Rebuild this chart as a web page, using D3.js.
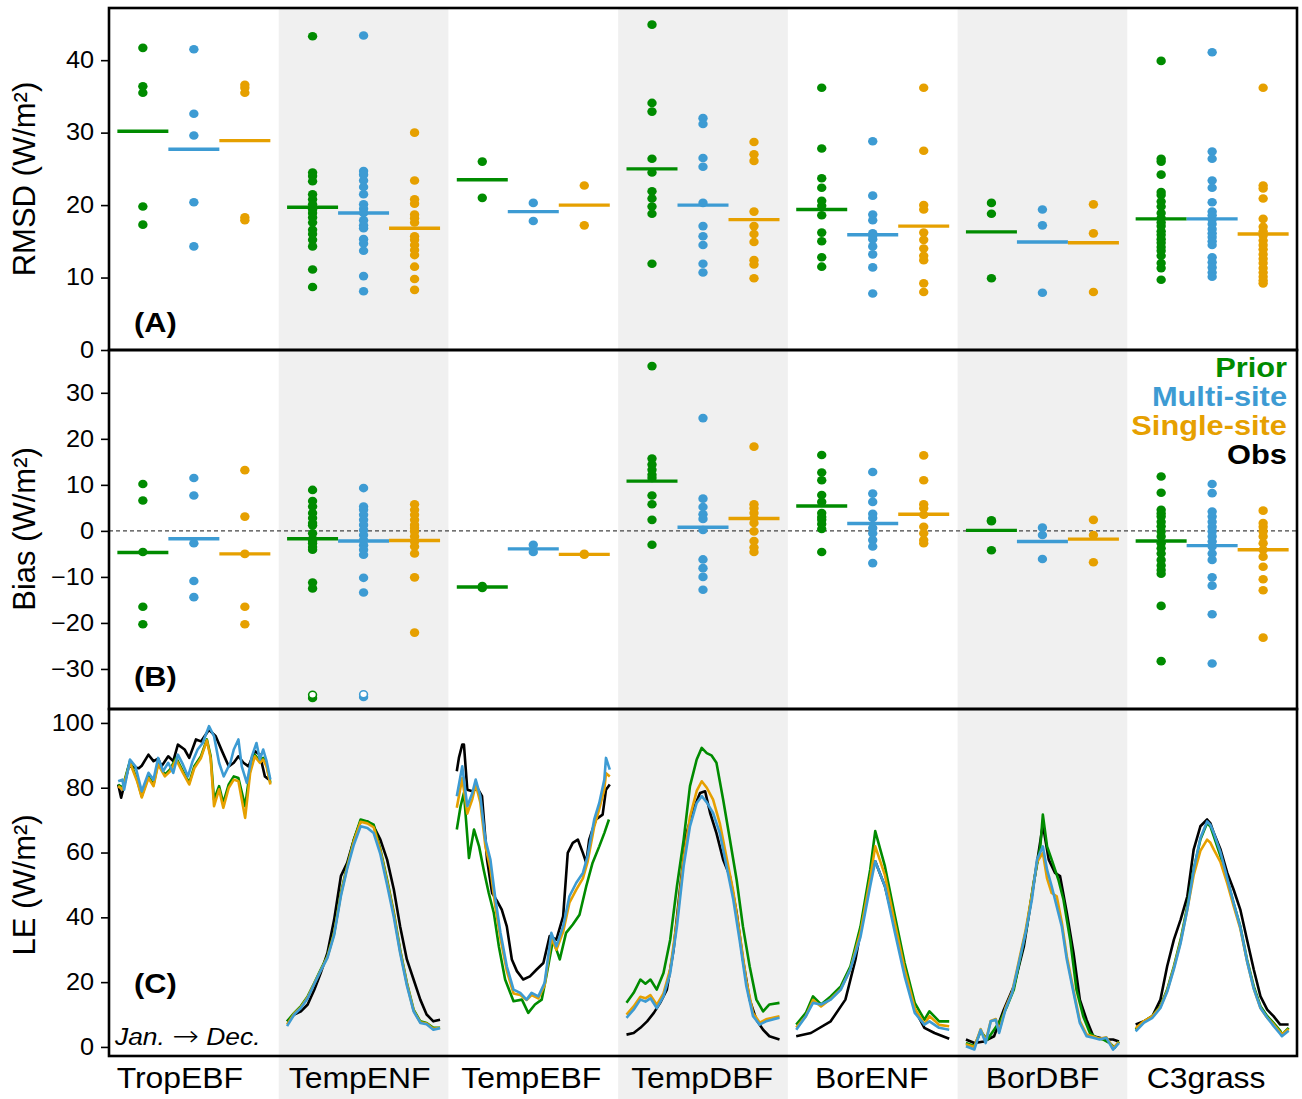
<!DOCTYPE html>
<html>
<head>
<meta charset="utf-8">
<script src="https://cdn.jsdelivr.net/npm/d3@7"></script>
<style>
  body { margin: 0; background: #fff; }
  text { font-family: "Liberation Sans", Arial, sans-serif; }
</style>
</head>
<body>
<svg id="chart" width="1302" height="1099"></svg>
<script>
// ---- data ----
var categories = ["TropEBF", "TempENF", "TempEBF", "TempDBF", "BorENF", "BorDBF", "C3grass"];
var models = ["Prior", "Multi-site", "Single-site"];

// (A) RMSD per site, one list per category
var rmsdPrior = [
  [41.7, 36.4, 35.5, 19.8, 17.3],
  [43.3, 24.5, 24.0, 23.3, 21.5, 20.8, 20.1, 19.4, 18.9, 18.3, 17.6, 16.6, 16.0, 15.2, 14.3, 11.1, 8.7],
  [26.0, 21.0],
  [44.9, 34.1, 32.9, 26.4, 24.5, 21.9, 20.9, 19.8, 18.8, 11.9],
  [36.2, 27.8, 23.7, 22.4, 20.6, 19.9, 18.6, 16.2, 15.0, 12.8, 11.5],
  [20.3, 18.8, 9.9],
  [39.9, 26.4, 26.0, 24.2, 21.8, 21.4, 20.5, 19.8, 18.9, 18.2, 17.6, 17.1, 16.4, 15.9, 15.3, 14.8, 14.2, 13.7, 13.0, 12.0, 11.3, 9.7]
];
var rmsdMulti = [
  [41.5, 32.6, 29.6, 20.4, 14.3],
  [43.4, 24.7, 24.2, 23.4, 22.5, 21.5, 20.1, 19.5, 18.9, 17.9, 17.2, 16.8, 15.3, 14.7, 13.7, 10.2, 8.1],
  [20.3, 17.8],
  [32.0, 31.2, 26.5, 25.3, 20.3, 17.1, 15.7, 14.5, 11.9, 10.7],
  [28.8, 21.3, 18.7, 17.9, 16.1, 15.8, 15.3, 14.3, 13.2, 11.4, 7.8],
  [19.4, 17.2, 7.9],
  [41.1, 27.4, 26.4, 23.4, 22.4, 20.4, 19.1, 18.6, 18.0, 17.4, 16.7, 16.1, 15.6, 15.0, 14.5, 12.8, 12.1, 11.4, 10.7, 10.1]
];
var rmsdSingle = [
  [36.6, 36.2, 35.5, 18.3, 17.9],
  [30.0, 23.4, 20.8, 20.2, 18.7, 18.2, 17.6, 15.7, 15.2, 14.5, 13.8, 13.1, 11.5, 9.8, 8.3],
  [22.7, 17.2],
  [28.7, 27.0, 26.1, 19.1, 17.1, 16.0, 14.9, 12.4, 11.8, 9.9],
  [36.2, 27.5, 20.0, 19.4, 16.2, 15.2, 14.0, 13.0, 12.4, 9.2, 8.0],
  [20.1, 16.1, 8.0],
  [36.2, 22.7, 22.3, 20.9, 18.1, 17.0, 16.4, 15.8, 15.1, 14.5, 13.9, 13.2, 12.6, 12.0, 11.3, 10.7, 10.1, 9.6, 9.2]
];
var rmsdMeanPrior  = [30.2, 19.7, 23.5, 25.0, 19.4, 16.3, 18.1];
var rmsdMeanMulti  = [27.7, 18.9, 19.1, 20.0, 15.9, 14.9, 18.1];
var rmsdMeanSingle = [28.9, 16.8, 20.0, 18.0, 17.1, 14.8, 16.0];

// (B) bias per site
var biasPrior = [
  [10.2, 6.6, -4.6, -16.5, -20.3],
  [8.9, 6.5, 5.3, 3.9, 2.8, 1.7, 1.2, -0.5, -1.7, -2.2, -2.7, -3.5, -4.1, -11.2, -12.5, -36.3],
  [-12.0, -12.4],
  [35.8, 15.7, 14.4, 13.3, 12.2, 11.5, 7.7, 5.8, 2.4, -3.0],
  [16.5, 12.7, 11.0, 7.8, 6.3, 3.9, 3.0, 2.4, 1.5, 0.4, -4.6],
  [2.3, 2.1, -4.2],
  [11.8, 8.3, 4.6, 3.8, 3.1, 2.0, 1.0, -0.1, -1.2, -2.7, -3.8, -4.9, -6.3, -7.5, -8.5, -9.3, -16.3, -28.3]
];
var biasMulti = [
  [11.5, 7.7, -2.7, -10.9, -14.4],
  [9.3, 5.3, 4.6, 3.5, 2.4, 1.3, 0.2, -0.9, -2.0, -3.1, -4.1, -5.2, -10.2, -13.4, -36.1],
  [-3.0, -4.6],
  [24.5, 7.0, 5.2, 3.6, 2.6, 0.2, -6.2, -8.1, -10.0, -12.8],
  [12.8, 8.1, 6.3, 3.7, 2.8, 0.6, -0.5, -2.0, -3.4, -7.0],
  [0.7, -0.9, -6.1],
  [10.2, 8.2, 4.2, 3.1, 2.0, 0.9, -0.1, -1.2, -2.3, -3.4, -4.9, -6.3, -10.1, -11.9, -18.1, -28.8]
];
var biasSingle = [
  [13.2, 3.1, -5.0, -16.5, -20.3],
  [5.8, 4.6, 3.5, 2.4, 1.3, 0.6, -0.1, -1.2, -2.3, -3.4, -4.9, -10.1, -22.1],
  [-5.0, -5.2],
  [18.3, 5.8, 4.9, 3.9, 2.8, 1.7, -0.1, -2.2, -3.6, -4.6],
  [16.4, 11.0, 5.8, 4.9, 3.5, 0.9, -0.5, -2.0, -2.7],
  [2.4, -0.9, -6.8],
  [4.4, 1.7, 0.9, -0.1, -1.2, -2.7, -4.1, -5.6, -7.8, -10.5, -12.9, -23.2]
];
var biasMeanPrior  = [-4.7, -1.7, -12.2, 10.8, 5.4, 0.1, -2.2];
var biasMeanMulti  = [-1.7, -2.2, -3.9, 0.8, 1.6, -2.3, -3.2];
var biasMeanSingle = [-5.0, -2.1, -5.1, 2.7, 3.6, -1.8, -4.1];
// off-scale markers (open circles) : [category, model, value]
var biasOffScale = [["TempENF", "Prior", -35.6], ["TempENF", "Multi-site", -35.5]];

// (C) seasonal LE, [day of year, W/m2]
var leObs = [
  [[2,81],[9,76.9],[27,86.6],[51,86],[58,86.8],[74,90.2],[86,88.2],[97,89],[105,86.6],[121,89.7],[133,88.2],[144,93.3],[160,91.8],[171,89.2],[187,94.9],[199,94.3],[218,97.9],[234,95.9],[249,91.3],[265,86.6],[277,87.7],[288,89.7],[300,87.7],[312,86.6],[327,91.3],[339,90.2],[351,83.5],[361,82.5]],
  [[0,7.9],[17,10],[33,11],[49,13.1],[65,17.7],[80,22.8],[96,29],[112,39.3],[128,52.7],[143,56.8],[159,64],[175,69.6],[191,69.6],[206,68.1],[222,64],[238,57.8],[254,48.6],[269,37.2],[285,27],[301,20.8],[317,14.6],[332,10],[348,7.9],[364,8.4]],
  [[0,85.1],[5,89.2],[13,93.3],[17,93.3],[25,79.4],[37,78.9],[49,79.9],[60,77.4],[72,57.8],[84,47.5],[96,45],[107,42.4],[119,37.2],[131,27],[143,23.4],[158,20.8],[174,21.8],[190,23.9],[206,25.9],[221,34.2],[237,33.1],[253,40.3],[264,59.9],[276,63],[288,64],[300,59.9],[308,56.8],[315,64],[331,70.2],[347,71.7],[355,79.4],[364,81]],
  [[0,3.8],[17,4.3],[33,5.9],[49,7.9],[65,10.5],[80,13.6],[96,17.7],[112,30],[128,49.6],[143,66],[159,73.3],[175,78.4],[187,78.9],[199,72.2],[214,66],[230,57.8],[246,52.7],[262,41.4],[277,27],[293,14.6],[309,8.4],[325,5.3],[340,3.3],[364,2.3]],
  [[0,3.3],[35,4.3],[82,7.9],[117,14.6],[141,27],[164,43.4],[176,52],[188,57.3],[211,49.6],[235,37.2],[258,23.9],[282,11.5],[305,5.9],[329,4.3],[364,2.5]],
  [[0,2.3],[20,1.2],[43,1.7],[67,3.3],[90,11.5],[114,18.7],[138,31.1],[153,43.4],[169,56.8],[183,68.6],[197,57.8],[212,53.7],[224,52.7],[240,41.4],[256,29],[271,14.6],[287,8.4],[303,3.3],[318,2.8],[334,2.3],[350,2.3],[364,1.7]],
  [[0,6.9],[20,7.9],[40,9.5],[59,14.6],[75,24.9],[91,33.1],[107,39.3],[123,46.5],[138,60.9],[154,68.1],[170,70.2],[178,69],[186,66],[202,60.9],[218,53.7],[233,48.6],[249,42.4],[265,33.1],[281,23.9],[297,15.6],[313,11.5],[328,9.5],[344,6.9],[364,6.9]]
];
var lePrior = [
  [[2,81],[12,80],[30,88.2],[47,82.5],[58,77.4],[74,83.5],[86,81],[97,87.7],[113,84],[125,85.6],[140,89.2],[156,85.1],[171,81.5],[183,86.6],[199,89.7],[213,94.9],[222,89.7],[230,76.3],[242,80.5],[252,75.3],[265,81],[277,83.5],[288,83],[304,74.3],[316,85.6],[327,90.2],[339,88.2],[347,89.2],[355,87.2],[364,81.5]],
  [[0,7.9],[17,10.5],[33,12.6],[49,15.6],[65,19.8],[80,23.9],[96,28],[112,35.2],[128,47.5],[143,55.8],[159,64],[175,70.2],[191,69.6],[206,68.6],[222,60.9],[238,51.6],[254,41.4],[269,30],[285,19.8],[301,11.5],[317,7.9],[332,7.4],[348,5.9],[364,5.9]],
  [[0,67.1],[9,74.3],[17,78.4],[29,58.3],[41,67.1],[53,61.9],[64,54.7],[76,47.5],[88,41.4],[100,31.1],[115,20.8],[135,14.1],[155,14.6],[170,10.5],[186,13.1],[202,14.6],[213,21.8],[229,33.1],[245,27],[260,35.2],[276,37.8],[292,40.8],[308,49.6],[323,56.8],[339,61.9],[351,66],[362,70.2]],
  [[0,13.6],[17,16.7],[33,20.8],[45,19.5],[57,20.8],[72,17.7],[88,22.8],[104,33.1],[120,49.6],[136,64],[151,80.5],[167,88.7],[179,92.3],[191,90.7],[202,90],[214,87.7],[230,76.3],[246,64],[262,51.6],[277,37.2],[293,24.9],[309,14.6],[325,11],[340,13.1],[364,13.6]],
  [[0,6.9],[23,10.5],[40,15.6],[59,13.1],[82,15.6],[106,18.7],[129,24.9],[153,37.2],[176,54.7],[188,66.6],[211,55.8],[235,40.3],[258,25.9],[282,13.6],[305,8.4],[317,11],[340,7.9],[364,7.9]],
  [[0,1.2],[20,0.2],[35,4.8],[51,2.3],[67,5.3],[83,8.4],[98,12.6],[114,17.7],[130,28],[145,37.2],[161,50.6],[177,61.9],[183,71.7],[193,61.9],[204,57.8],[220,51.6],[232,45.5],[248,33.1],[263,17.7],[279,9.5],[295,4.3],[311,2.8],[326,2.3],[342,1.2],[354,-0.3],[364,1.7]],
  [[0,5.3],[20,7.9],[40,9.5],[59,12.6],[75,17.7],[91,24.9],[107,33.1],[123,43.4],[138,54.7],[154,64],[170,69.1],[178,68],[186,65],[202,58.8],[218,51.6],[233,44.4],[249,37.2],[265,27],[281,18.7],[297,12.6],[313,9.5],[328,7.4],[344,5],[348,3.8],[364,5.9]]
];
var leMulti = [
  [[2,82],[12,82.5],[16,79.4],[30,88.7],[43,86.6],[58,78.9],[74,84.6],[86,82.5],[97,89.2],[109,85.1],[121,87.7],[133,84.6],[144,90.2],[156,87.2],[168,83.5],[179,88.2],[191,91.8],[203,93.8],[218,99],[230,95.9],[242,87.7],[253,83.5],[269,87.7],[277,91.8],[288,94.9],[296,86.6],[308,81.5],[320,89.7],[331,93.8],[339,88.7],[347,91.8],[355,88.2],[364,82.5]],
  [[0,6.4],[17,10],[33,12],[49,15],[65,19.5],[80,23.5],[96,27.5],[112,34.5],[128,46.5],[143,55],[159,62.5],[175,68.1],[191,67.6],[206,66],[222,59.5],[238,50],[254,40],[269,29],[285,19],[301,11],[317,7.4],[332,7],[348,5.3],[364,5.8]],
  [[0,77.4],[13,86.6],[25,74.3],[37,78.4],[45,82.5],[56,77.4],[68,64],[80,57.8],[92,45.5],[104,35.2],[119,24.9],[135,17.7],[151,16.7],[166,14.6],[178,16.7],[194,15.6],[209,19.8],[225,35.2],[237,31.1],[253,37.2],[268,46.5],[284,50.6],[300,53.7],[311,58.8],[327,70.2],[339,75.3],[351,82.5],[355,89.2],[364,85.6]],
  [[0,9],[17,11.5],[33,14.6],[45,14],[57,15],[72,12],[88,15.6],[104,22.8],[120,37.2],[136,55.8],[151,68.1],[167,75.3],[179,77.4],[191,75.5],[206,72.2],[222,66],[238,55.8],[254,45.5],[269,33.1],[285,18.8],[301,9.5],[317,6.9],[332,7.9],[348,8.5],[364,9]],
  [[0,5.3],[23,9.5],[40,13.6],[59,13.1],[82,14.6],[106,17.7],[129,24],[153,34],[176,49.6],[188,57.3],[211,49.6],[235,35.2],[258,21.8],[282,10.5],[305,6.9],[317,7.9],[340,5.9],[364,5.3]],
  [[0,0.2],[20,-0.8],[35,5.3],[47,1.2],[59,7.9],[71,8.4],[79,4.3],[94,11.5],[110,16.7],[126,25.9],[142,35.2],[157,45.5],[169,57.8],[183,61.9],[193,54.7],[204,49.6],[216,43.4],[228,37.2],[240,27],[256,16.7],[271,7.4],[287,3.3],[303,2.8],[318,2.3],[334,2.8],[350,-0.8],[364,1.2]],
  [[0,4.8],[20,7.5],[40,9],[59,12],[75,17],[91,24],[107,32],[123,42.5],[138,54.5],[154,64.5],[170,69.6],[178,68.5],[186,66],[202,60],[218,52],[233,44.5],[249,37],[265,26.5],[281,18],[297,12],[313,9],[328,6.5],[344,4],[348,3.3],[364,5]]
];
var leSingle = [
  [[2,80.5],[12,79.5],[30,87.7],[47,82],[58,77],[74,83],[86,80.5],[97,87.2],[113,83.5],[125,85],[140,88.7],[156,84.6],[171,81],[183,86],[199,89.2],[213,94.6],[222,89],[230,74.3],[242,79.5],[252,73.8],[265,80],[277,82.5],[288,82],[304,70.7],[316,84.6],[327,89.7],[339,87.7],[347,88.7],[355,86.6],[364,81]],
  [[0,6.9],[17,10.3],[33,12.3],[49,15.3],[65,19.6],[80,23.6],[96,27.8],[112,35],[128,47],[143,55.5],[159,63.5],[175,69.5],[191,69],[206,67.8],[222,60.5],[238,51],[254,41],[269,29.5],[285,19.5],[301,11.2],[317,7.6],[332,7.2],[348,5.6],[364,5.9]],
  [[0,73.8],[13,83],[25,72],[37,76.5],[45,81],[56,75.5],[68,62],[80,55],[92,43],[104,33.5],[119,23.5],[135,16.5],[151,16],[166,14.5],[178,16],[194,15],[209,19],[225,33.5],[237,30],[253,35.5],[268,44.5],[284,48.5],[300,52],[311,57],[327,68],[339,73.5],[351,79.5],[355,84.5],[364,83.5]],
  [[0,10],[17,12.5],[33,15.5],[45,15],[57,16],[72,13],[88,16.5],[104,24],[120,39],[136,58],[151,71],[167,79],[179,82],[191,80],[206,76.3],[222,69],[238,58.5],[254,48],[269,35],[285,20.5],[301,10.5],[317,7.5],[332,8.5],[348,9],[364,9.5]],
  [[0,6],[23,9.5],[40,14.5],[59,12.5],[82,14.8],[106,17.8],[129,24],[153,35.5],[176,52],[188,61.9],[211,53],[235,38],[258,24],[282,12],[305,7],[317,9.5],[340,6.8],[364,6.4]],
  [[0,0.8],[20,0],[35,5.5],[47,1.8],[59,8],[71,8.6],[79,4.8],[94,12],[110,17],[126,26.5],[142,36],[157,47],[169,57],[183,59.9],[193,52],[204,47.5],[216,46.5],[228,38.5],[240,28],[256,17.5],[271,8],[287,3.8],[303,3.2],[318,2.5],[334,3],[350,-0.3],[364,1.5]],
  [[0,5.8],[20,8],[40,9.5],[59,12.4],[75,17.3],[91,24.5],[107,32.5],[123,42.5],[138,53],[154,60.5],[170,64],[178,63],[186,60.9],[202,57],[218,50.5],[233,43.5],[249,36.5],[265,26.5],[281,18],[297,12],[313,9],[328,7],[344,4.5],[348,3.8],[364,5.5]]
];

var rmsdTicks = [0, 10, 20, 30, 40];
var biasTicks = [-30, -20, -10, 0, 10, 20, 30];
var leTicks = [0, 20, 40, 60, 80, 100];

// ---- drawing ----
var colors = { "Prior": "#008b00", "Multi-site": "#3d9bd3", "Single-site": "#e6a000", "Obs": "#000000" };
var svg = d3.select("#chart");
var left = 109, right = 1297;
var yTop = 8, midAB = 350, midBC = 709, yBottom = 1056;
var stretchX = 1.1;   // the figure's type is set a bit wide
var labelNudge = [-14, -4, -2, -1, -1, 0, -6];   // category labels sit a touch left of band centres

var x = d3.scaleBand().domain(categories).range([left, right]);
var xSub = d3.scaleBand().domain(models).range([0, x.bandwidth()]).paddingOuter(0.164);

var yA = d3.scaleLinear().domain([0, 47.2]).range([midAB, yTop]);
var yB = d3.scaleLinear().domain([-38.7, 39.3]).range([midBC, midAB]);
var yC = d3.scaleLinear().domain([-2.8, 104.3]).range([yBottom, midBC]);

// place a text at (px,py), widened horizontally
function placeText(sel, px, py) {
  sel.attr("transform", function(d, i) {
    var a = typeof px == "function" ? px(d, i) : px;
    var b = typeof py == "function" ? py(d, i) : py;
    return "translate(" + a + "," + b + ") scale(" + stretchX + ",1)";
  });
}

// grey bands behind every other category
svg.append("g").selectAll("rect")
  .data(categories.filter(function(d, i) { return i % 2 == 1; }))
  .enter().append("rect")
    .attr("x", function(d) { return x(d); })
    .attr("y", yTop)
    .attr("width", x.bandwidth())
    .attr("height", 1099 - yTop)
    .attr("fill", "#f0f0f0");

// zero line in panel B
svg.append("line")
  .attr("x1", left).attr("x2", right)
  .attr("y1", yB(0)).attr("y2", yB(0))
  .attr("stroke", "#444").attr("stroke-width", 1.2).attr("stroke-dasharray", "4,3");

function dotPanel(y, lists, means) {
  var g = svg.append("g");
  models.forEach(function(m, mi) {
    var cx = function(c) { return x(c) + xSub(m) + xSub.bandwidth() / 2; };
    categories.forEach(function(c, ci) {
      g.selectAll(null)
        .data(lists[mi][ci])
        .enter().append("ellipse")
          .attr("cx", cx(c))
          .attr("cy", function(d) { return y(d); })
          .attr("rx", 4.7).attr("ry", 4.3)
          .attr("fill", colors[m]);
    });
    g.selectAll(null)
      .data(categories)
      .enter().append("line")
        .attr("x1", function(c) { return x(c) + xSub(m); })
        .attr("x2", function(c) { return x(c) + xSub(m) + xSub.bandwidth(); })
        .attr("y1", function(c, ci) { return y(means[mi][ci]); })
        .attr("y2", function(c, ci) { return y(means[mi][ci]); })
        .attr("stroke", colors[m])
        .attr("stroke-width", 3.4);
  });
  return g;
}

dotPanel(yA, [rmsdPrior, rmsdMulti, rmsdSingle], [rmsdMeanPrior, rmsdMeanMulti, rmsdMeanSingle]);
var gB = dotPanel(yB, [biasPrior, biasMulti, biasSingle], [biasMeanPrior, biasMeanMulti, biasMeanSingle]);

gB.selectAll(null)
  .data(biasOffScale)
  .enter().append("ellipse")
    .attr("cx", function(d) { return x(d[0]) + xSub(d[1]) + xSub.bandwidth() / 2; })
    .attr("cy", function(d) { return yB(d[2]); })
    .attr("rx", 3.9).attr("ry", 3.5)
    .attr("fill", "#fff")
    .attr("stroke", function(d) { return colors[d[1]]; })
    .attr("stroke-width", 1.6);

// panel C lines
var gC = svg.append("g");
var series = [["Obs", leObs], ["Prior", lePrior], ["Single-site", leSingle], ["Multi-site", leMulti]];
series.forEach(function(s) {
  categories.forEach(function(c, ci) {
    var xd = d3.scaleLinear().domain([0, 364])
      .range([x(c) + xSub("Prior"), x(c) + xSub("Single-site") + xSub.bandwidth()]);
    var line = d3.line()
      .x(function(d) { return xd(d[0]); })
      .y(function(d) { return yC(d[1]); });
    gC.append("path")
      .datum(s[1][ci])
      .attr("d", line)
      .attr("fill", "none")
      .attr("stroke", colors[s[0]])
      .attr("stroke-width", 2.6)
      .attr("stroke-linejoin", "round");
  });
});

// frames
[[yTop, midAB], [midAB, midBC], [midBC, yBottom]].forEach(function(p) {
  svg.append("rect")
    .attr("x", left).attr("y", p[0])
    .attr("width", right - left).attr("height", p[1] - p[0])
    .attr("fill", "none").attr("stroke", "#000").attr("stroke-width", 2.6);
});

// axes
function yAxis(scale, ticks) {
  var g = svg.append("g")
    .attr("transform", "translate(" + left + ",0)")
    .call(d3.axisLeft(scale).tickValues(ticks).tickSize(8).tickPadding(7)
      .tickFormat(function(d) { return d < 0 ? "\u2212" + Math.abs(d) : d; }));
  g.select(".domain").remove();
  g.selectAll(".tick line").attr("stroke", "#000").attr("stroke-width", 1.6);
  g.selectAll(".tick text")
    .attr("font-size", 23).attr("fill", "#000")
    .style("font-family", "'Liberation Sans', Arial, sans-serif")
    .attr("x", null)
    .attr("transform", "translate(-15,0) scale(" + stretchX + ",1)");
}
yAxis(yA, rmsdTicks);
yAxis(yB, biasTicks);
yAxis(yC, leTicks);

function yTitle(label, cy) {
  svg.append("text")
    .attr("transform", "translate(35," + cy + ") rotate(-90)")
    .attr("text-anchor", "middle")
    .attr("font-size", 31)
    .text(label);
}
yTitle("RMSD (W/m\u00b2)", 179);
yTitle("Bias (W/m\u00b2)", 529);
yTitle("LE (W/m\u00b2)", 885);

// category labels
svg.append("g").selectAll("text")
  .data(categories)
  .enter().append("text")
    .attr("text-anchor", "middle")
    .attr("font-size", 29)
    .text(function(d) { return d; })
    .call(placeText, function(d, i) { return x(d) + x.bandwidth() / 2 + labelNudge[i]; }, 1088);

// panel letters
[["(A)", 332], ["(B)", 686], ["(C)", 993]].forEach(function(p) {
  svg.append("text")
    .attr("font-size", 28).attr("font-weight", "bold")
    .text(p[0])
    .call(placeText, 134, p[1]);
});
var season = svg.append("text")
  .attr("font-size", 24).attr("font-style", "italic")
  .call(placeText, 115, 1045);
season.append("tspan").text("Jan. ");
season.append("tspan").style("font-family", "'DejaVu Sans', sans-serif")
  .attr("font-size", 29).attr("font-style", "normal").attr("font-weight", 200)
  .attr("dy", 1).text("\u2192");
season.append("tspan").attr("dy", -1).text(" Dec.");

// legend
var legendItems = ["Prior", "Multi-site", "Single-site", "Obs"];
svg.append("g").selectAll("text")
  .data(legendItems)
  .enter().append("text")
    .attr("text-anchor", "end")
    .attr("font-size", 28)
    .attr("font-weight", "bold")
    .attr("fill", function(d) { return colors[d]; })
    .text(function(d) { return d; })
    .call(placeText, 1287, function(d, i) { return 377 + i * 29; });
</script>
</body>
</html>
